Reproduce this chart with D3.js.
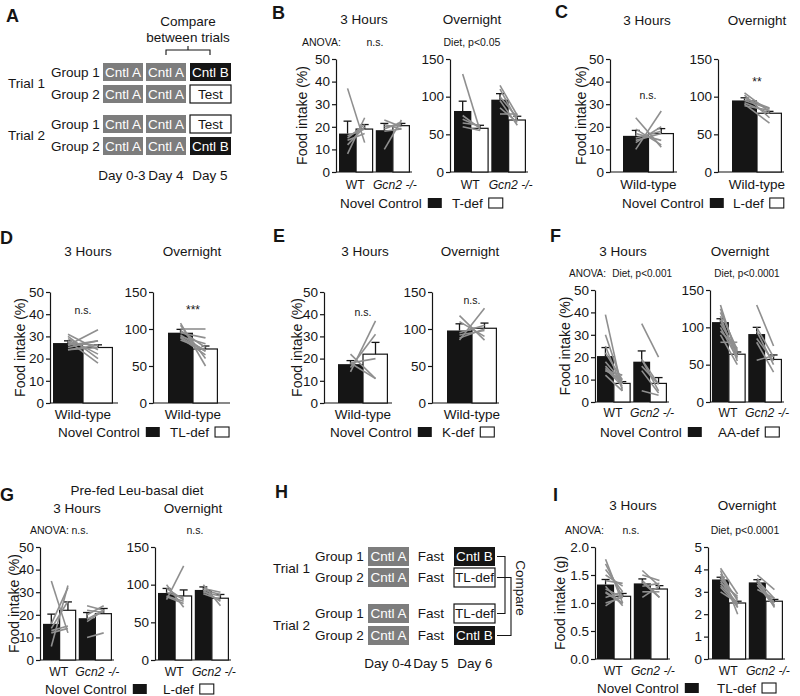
<!DOCTYPE html>
<html><head><meta charset="utf-8">
<script src="https://cdn.jsdelivr.net/npm/d3@7"></script>
<style>body{margin:0;background:#fff} svg{font-family:Arial,"Liberation Sans",sans-serif}</style>
</head><body><svg id="fig" width="800" height="696"></svg>
<script>
// ---------------- DATA ----------------
const catsKO = ["WT", "Gcn2 -/-"];
const catsWT = ["Wild-type"];
const ticksPct50 = [0, 10, 20, 30, 40, 50];
const ticksPct150 = [0, 50, 100, 150];
const ticksG2 = [0, 0.5, 1.0, 1.5, 2.0];
const ticksG5 = [0, 1, 2, 3, 4, 5];

// Panel A protocol
const A_trials = ["Trial 1", "Trial 2"];
const A_groups = ["Group 1", "Group 2", "Group 1", "Group 2"];
const A_days = ["Day 0-3", "Day 4", "Day 5"];
const A_day5 = ["Cntl B", "Test", "Test", "Cntl B"];
// Panel H protocol
const H_trials = ["Trial 1", "Trial 2"];
const H_groups = ["Group 1", "Group 2", "Group 1", "Group 2"];
const H_days = ["Day 0-4", "Day 5", "Day 6"];
const H_day6 = ["Cntl B", "TL-def", "TL-def", "Cntl B"];

// Panel B (T-def)
const B_3h_ctrl = [17, 18.5], B_3h_ctrlErr = [5.5, 3], B_3h_def = [19, 20.5], B_3h_defErr = [2, 1];
const B_3h_pairs = [[[37,13],[8,24],[12,20],[14,17],[15,21],[16,19]],
                    [[10,23],[21,19],[23,20],[19,22],[20,21],[18,19]]];
const B_on_ctrl = [81, 96], B_on_ctrlErr = [13, 8], B_on_def = [58, 69], B_on_defErr = [4, 5];
const B_on_pairs = [[[130,55],[60,55],[65,62],[75,58],[70,60]],
                    [[115,75],[110,68],[100,72],[95,62],[85,66],[77,77]]];
// Panel C (L-def)
const C_3h_ctrl = [16], C_3h_ctrlErr = [2.4], C_3h_def = [17], C_3h_defErr = [2.2];
const C_3h_pairs = [[[24,11],[10,27],[13,20],[19,12],[15,18],[17,14],[14,17]]];
const C_on_ctrl = [95], C_on_ctrlErr = [3.5], C_on_def = [78], C_on_defErr = [2.5];
const C_on_pairs = [[[105,80],[102,72],[98,85],[90,65],[92,78],[88,82],[95,84]]];
// Panel D (TL-def)
const D_3h_ctrl = [27], D_3h_ctrlErr = [1], D_3h_def = [25], D_3h_defErr = [1.2];
const D_3h_pairs = [[[31,24],[26,33],[28,18],[25,28],[29,22],[27,26],[24,25],[26,28],[30,20],[24,26]]];
const D_on_ctrl = [95], D_on_ctrlErr = [4.5], D_on_def = [73], D_on_defErr = [4];
const D_on_pairs = [[[108,50],[105,60],[100,100],[98,75],[95,88],[92,70],[90,80],[88,65],[85,72],[89,70]]];
// Panel E (K-def)
const E_3h_ctrl = [17.5], E_3h_ctrlErr = [1.6], E_3h_def = [22], E_3h_defErr = [5.3];
const E_3h_pairs = [[[14,37],[16,31],[18,20],[22,11],[18,11]]];
const E_on_ctrl = [98], E_on_ctrlErr = [9], E_on_def = [101], E_on_defErr = [7];
const E_on_pairs = [[[118,85],[85,128],[110,90],[95,105],[88,100],[92,98]]];
// Panel F (AA-def)
const F_3h_ctrl = [20.5, 18], F_3h_ctrlErr = [3.8, 4.8], F_3h_def = [8.3, 8.3], F_3h_defErr = [0.8, 2.6];
const F_3h_pairs = [[[39,5],[30,8],[25,6],[22,10],[18,9],[15,7],[14,12],[16,8],[12,5],[14,10]],
                    [[35,20],[19,5],[16,8],[14,4],[5,3],[19,8]]];
const F_on_ctrl = [107, 91], F_on_ctrlErr = [4.5, 9], F_on_def = [64, 57], F_on_defErr = [3, 6];
const F_on_pairs = [[[130,60],[125,65],[120,70],[115,55],[110,62],[105,68],[100,58],[95,72],[90,50],[80,80]],
                    [[130,75],[100,60],[95,50],[85,55],[80,40],[56,62]]];
// Panel G (L-def, pre-fed Leu-basal)
const G_3h_ctrl = [16, 18.5], G_3h_ctrlErr = [4.3, 2.5], G_3h_def = [22, 20.5], G_3h_defErr = [3.7, 2.3];
const G_3h_pairs = [[[35,12],[6,33],[14,26],[13,15],[12,14],[16,32]],
                    [[24,22],[10,12],[20,24],[17,22],[22,21],[18,22]]];
const G_on_ctrl = [89, 93], G_on_ctrlErr = [6, 4], G_on_def = [85, 82], G_on_defErr = [8, 5];
const G_on_pairs = [[[80,125],[100,70],[95,80],[85,78],[90,82],[84,75]],
                    [[100,72],[95,90],[90,85],[88,80],[92,78],[93,87]]];
// Panel I (TL-def, grams)
const I_3h_ctrl = [1.33, 1.35], I_3h_ctrlErr = [0.09, 0.08], I_3h_def = [1.12, 1.25], I_3h_defErr = [0.05, 0.06];
const I_3h_pairs = [[[1.78,1.0],[1.7,1.1],[1.6,1.2],[1.5,1.3],[1.4,1.35],[1.3,0.95],[1.25,1.1],[1.2,1.0],[1.1,1.2],[1.0,1.1],[0.95,1.15],[1.18,0.99]],
                    [[1.58,1.3],[1.5,1.4],[1.4,1.1],[1.3,1.35],[1.2,1.2],[1.1,1.3],[1.37,1.1]]];
const I_on_ctrl = [3.55, 3.42], I_on_ctrlErr = [0.1, 0.12], I_on_def = [2.5, 2.58], I_on_defErr = [0.08, 0.08];
const I_on_pairs = [[[4.05,2.9],[3.95,2.0],[3.8,2.6],[3.7,2.3],[3.6,2.7],[3.5,2.3],[3.4,2.8],[3.3,2.5],[3.2,2.4],[3.0,2.5]],
                    [[3.75,3.1],[3.6,2.3],[3.5,2.7],[3.4,2.5],[3.3,2.4],[3.1,2.7],[3.29,2.36]]];

// ---------------- DRAWING ----------------
const svg = d3.select("#fig");
const INK = "#151515", GREY = "#8f8f8f", BOXGREY = "#7d7d7d";

function txt(x, y, s, o = {}) {
  return svg.append("text").attr("x", x).attr("y", y).attr("dy", "0.35em")
    .attr("text-anchor", o.anchor || "start").attr("font-size", o.size || 13)
    .attr("font-weight", o.weight || "normal").attr("font-style", o.style || "normal")
    .attr("fill", o.fill || INK).text(s);
}

function chart(c) {
  const y = d3.scaleLinear().domain([0, c.max]).range([c.yBot, c.yTop]);
  const xg = d3.scaleBand().domain(c.cats).range([c.barL, c.barR]).paddingInner(c.cats.length > 1 ? 0.07 : 0);
  const xs = d3.scaleBand().domain(["ctrl", "def"]).range([0, xg.bandwidth()]);
  const g = svg.append("g");
  const ax = d3.axisLeft(y).tickValues(c.ticks).tickSize(4).tickSizeOuter(0).tickPadding(2)
    .tickFormat(c.fmt || d3.format("d"));
  const axg = g.append("g").attr("transform", `translate(${c.axisX},0)`).call(ax);
  axg.select(".domain").attr("stroke", INK).attr("stroke-width", 1.2);
  axg.selectAll(".tick line").attr("stroke", INK).attr("stroke-width", 1.2);
  axg.selectAll(".tick text").attr("font-size", 13.5).attr("fill", INK)
     .attr("font-family", "Arial, 'Liberation Sans', sans-serif");
  g.append("line").attr("x1", c.axisX).attr("x2", c.xEnd).attr("y1", c.yBot).attr("y2", c.yBot)
    .attr("stroke", INK).attr("stroke-width", 1.2);
  const bw = xs.bandwidth();
  const many = c.cats.length > 1;
  c.cats.forEach((cat, i) => {
    const xc = xg(cat) + xs("ctrl"), xd = xg(cat) + xs("def");
    g.append("rect").attr("x", xc).attr("y", y(c.ctrl[i])).attr("width", bw)
      .attr("height", c.yBot - y(c.ctrl[i])).attr("fill", INK);
    g.append("rect").attr("x", xd).attr("y", y(c.def[i])).attr("width", bw - 0.6)
      .attr("height", c.yBot - y(c.def[i])).attr("fill", "#fff").attr("stroke", INK).attr("stroke-width", 1.2);
    [[xc, c.ctrl[i], c.ctrlErr[i]], [xd, c.def[i], c.defErr[i]]].forEach(([bx, m, e]) => {
      const cx = bx + bw / 2;
      g.append("line").attr("x1", cx).attr("x2", cx).attr("y1", y(m)).attr("y2", y(m + e))
        .attr("stroke", INK).attr("stroke-width", 1.3);
      g.append("line").attr("x1", cx - 4).attr("x2", cx + 4).attr("y1", y(m + e)).attr("y2", y(m + e))
        .attr("stroke", INK).attr("stroke-width", 1.3);
    });
    c.pairs[i].forEach(p => {
      g.append("line").attr("x1", xc + bw / 2).attr("x2", xd + bw / 2)
        .attr("y1", y(p[0])).attr("y2", y(p[1]))
        .attr("stroke", GREY).attr("stroke-width", 1.6);
    });
    const isKO = cat.startsWith("Gcn2");
    txt(xg(cat) + xg.bandwidth() / 2 + (isKO ? 2 : (many ? -1 : 0)), c.catY, cat,
        { anchor: "middle", size: many ? 12.2 : 13.5, style: isKO ? "italic" : "normal" });
  });
  if (c.ylab) {
    svg.append("text").attr("transform", `translate(${c.ylab[0]},${(c.yTop + c.yBot) / 2}) rotate(-90)`)
      .attr("text-anchor", "middle").attr("dy", "0.35em").attr("font-size", 14).attr("fill", INK).text(c.ylab[1]);
  }
  if (c.title) txt(c.title[0], c.title[1], c.title[2], { anchor: "middle", size: 13.5 });
}

function legend(x, y, defLabel, defX) {
  const t1 = txt(x, y, "Novel Control", { size: 13.5 });
  const w1 = t1.node().getComputedTextLength();
  svg.append("rect").attr("x", x + w1 + 6).attr("y", y - 5).attr("width", 14).attr("height", 10).attr("fill", INK);
  const t2 = txt(defX, y, defLabel, { size: 13.5 });
  const w2 = t2.node().getComputedTextLength();
  svg.append("rect").attr("x", defX + w2 + 6).attr("y", y - 5).attr("width", 14).attr("height", 10)
    .attr("fill", "#fff").attr("stroke", INK).attr("stroke-width", 1.1);
}

function box(x, y, w, h, label, kind) {
  const fill = kind === "grey" ? BOXGREY : kind === "black" ? INK : "#fff";
  svg.append("rect").attr("x", x).attr("y", y).attr("width", w).attr("height", h).attr("fill", fill)
    .attr("stroke", kind === "white" ? INK : "none").attr("stroke-width", 1.2);
  txt(x + w / 2, y + h / 2, label, { anchor: "middle", size: 13.5, fill: kind === "white" ? INK : "#fff" });
}
function kindOf(s) { return s.startsWith("Cntl B") ? "black" : s.startsWith("Cntl") ? "grey" : "white"; }

// ---- Panel letters
[["A", 6, 16], ["B", 272, 13], ["C", 555, 12], ["D", 0, 238], ["E", 273, 236], ["F", 550, 236],
 ["G", 0, 495], ["H", 275, 492], ["I", 553, 495]].forEach(d => txt(d[1], d[2], d[0], { size: 18, weight: "bold" }));

// ---- Panel A
{
  const rowsY = [63, 85, 115, 137], h = 18;
  A_trials.forEach((t, i) => txt(8, i === 0 ? 83 : 135, t, { size: 13.5 }));
  A_groups.forEach((gname, i) => {
    txt(51, rowsY[i] + h / 2, gname, { size: 13.5 });
    box(103, rowsY[i], 40, h, "Cntl A", "grey");
    box(146, rowsY[i], 40, h, "Cntl A", "grey");
    box(190, rowsY[i], 41, h, A_day5[i], kindOf(A_day5[i]));
  });
  [122, 166, 210].forEach((x, i) => txt(x, 175, A_days[i], { anchor: "middle", size: 13.5 }));
  txt(188, 21, "Compare", { anchor: "middle", size: 13.5 });
  txt(188, 37, "between trials", { anchor: "middle", size: 13.5 });
  svg.append("path").attr("d", "M166,55 V50 H210 V55 M188,50 V46").attr("fill", "none")
    .attr("stroke", INK).attr("stroke-width", 1.1);
}

// ---- Panel H
{
  const rowsY = [547, 568, 604, 626], h = 19;
  H_trials.forEach((t, i) => txt(273, i === 0 ? 568 : 625, t, { size: 13.5 }));
  H_groups.forEach((gname, i) => {
    txt(315, rowsY[i] + h / 2, gname, { size: 13.5 });
    box(368, rowsY[i], 41, h, "Cntl A", "grey");
    txt(431, rowsY[i] + h / 2, "Fast", { anchor: "middle", size: 13.5 });
    box(454, rowsY[i], 41, h, H_day6[i], kindOf(H_day6[i]));
  });
  [388, 431, 475].forEach((x, i) => txt(x, 663, H_days[i], { anchor: "middle", size: 13.5 }));
  const mid = i => rowsY[i] + h / 2;
  svg.append("path").attr("d", `M497,${mid(0)} H505 V${mid(2)} H497`).attr("fill", "none").attr("stroke", INK).attr("stroke-width", 1.1);
  svg.append("path").attr("d", `M497,${mid(1)} H511 V${mid(3)} H497`).attr("fill", "none").attr("stroke", INK).attr("stroke-width", 1.1);
  svg.append("text").attr("transform", "translate(521,588) rotate(90)").attr("text-anchor", "middle")
    .attr("dy", "0.35em").attr("font-size", 13.5).attr("fill", INK).text("Compare");
}

const FL = "Food intake (%)";
const SM = 10.5;
// ---- Panel B
chart({ axisX: 336, barL: 339, barR: 410, xEnd: 412, yTop: 59, yBot: 172, max: 50, ticks: ticksPct50,
  cats: catsKO, ctrl: B_3h_ctrl, ctrlErr: B_3h_ctrlErr, def: B_3h_def, defErr: B_3h_defErr, pairs: B_3h_pairs,
  catY: 185, ylab: [302, FL], title: [364, 19, "3 Hours"] });
chart({ axisX: 450, barL: 454, barR: 526, xEnd: 528, yTop: 59, yBot: 172, max: 150, ticks: ticksPct150,
  cats: catsKO, ctrl: B_on_ctrl, ctrlErr: B_on_ctrlErr, def: B_on_def, defErr: B_on_defErr, pairs: B_on_pairs,
  catY: 185, title: [472, 19, "Overnight"] });
txt(302, 42, "ANOVA:", { size: SM });
txt(375, 42, "n.s.", { size: SM, anchor: "middle" });
txt(472, 42, "Diet, p<0.05", { size: SM, anchor: "middle" });
legend(340, 203, "T-def", 452);

// ---- Panel C
chart({ axisX: 610, barL: 623, barR: 674, xEnd: 677, yTop: 59, yBot: 172, max: 50, ticks: ticksPct50,
  cats: catsWT, ctrl: C_3h_ctrl, ctrlErr: C_3h_ctrlErr, def: C_3h_def, defErr: C_3h_defErr, pairs: C_3h_pairs,
  catY: 184, ylab: [581, FL], title: [647, 20, "3 Hours"] });
chart({ axisX: 718, barL: 732, barR: 782, xEnd: 784, yTop: 59, yBot: 172, max: 150, ticks: ticksPct150,
  cats: catsWT, ctrl: C_on_ctrl, ctrlErr: C_on_ctrlErr, def: C_on_def, defErr: C_on_defErr, pairs: C_on_pairs,
  catY: 184, title: [757, 20, "Overnight"] });
txt(648, 95, "n.s.", { size: SM, anchor: "middle" });
txt(757, 82, "**", { size: 12, anchor: "middle" });
legend(622, 203, "L-def", 733);

// ---- Panel D
chart({ axisX: 50, barL: 53, barR: 113, xEnd: 118, yTop: 292, yBot: 403, max: 50, ticks: ticksPct50,
  cats: catsWT, ctrl: D_3h_ctrl, ctrlErr: D_3h_ctrlErr, def: D_3h_def, defErr: D_3h_defErr, pairs: D_3h_pairs,
  catY: 414, ylab: [20, FL], title: [88, 251, "3 Hours"] });
chart({ axisX: 153, barL: 168, barR: 218, xEnd: 230, yTop: 292, yBot: 403, max: 150, ticks: ticksPct150,
  cats: catsWT, ctrl: D_on_ctrl, ctrlErr: D_on_ctrlErr, def: D_on_def, defErr: D_on_defErr, pairs: D_on_pairs,
  catY: 414, title: [192, 251, "Overnight"] });
txt(83, 310, "n.s.", { size: SM, anchor: "middle" });
txt(193, 310, "***", { size: 12, anchor: "middle" });
legend(58, 432, "TL-def", 170);

// ---- Panel E
chart({ axisX: 324, barL: 338, barR: 388, xEnd: 392, yTop: 292, yBot: 403, max: 50, ticks: ticksPct50,
  cats: catsWT, ctrl: E_3h_ctrl, ctrlErr: E_3h_ctrlErr, def: E_3h_def, defErr: E_3h_defErr, pairs: E_3h_pairs,
  catY: 414, ylab: [297, FL], title: [365, 251, "3 Hours"] });
chart({ axisX: 432, barL: 447, barR: 497, xEnd: 499, yTop: 292, yBot: 403, max: 150, ticks: ticksPct150,
  cats: catsWT, ctrl: E_on_ctrl, ctrlErr: E_on_ctrlErr, def: E_on_def, defErr: E_on_defErr, pairs: E_on_pairs,
  catY: 414, title: [470, 251, "Overnight"] });
txt(363, 312, "n.s.", { size: SM, anchor: "middle" });
txt(472, 300, "n.s.", { size: SM, anchor: "middle" });
legend(330, 432, "K-def", 442);

// ---- Panel F
chart({ axisX: 595, barL: 597, barR: 667, xEnd: 669, yTop: 290, yBot: 402, max: 50, ticks: ticksPct50,
  cats: catsKO, ctrl: F_3h_ctrl, ctrlErr: F_3h_ctrlErr, def: F_3h_def, defErr: F_3h_defErr, pairs: F_3h_pairs,
  catY: 413, ylab: [565, FL], title: [623, 251, "3 Hours"] });
chart({ axisX: 710, barL: 712, barR: 782, xEnd: 784, yTop: 290, yBot: 402, max: 150, ticks: ticksPct150,
  cats: catsKO, ctrl: F_on_ctrl, ctrlErr: F_on_ctrlErr, def: F_on_def, defErr: F_on_defErr, pairs: F_on_pairs,
  catY: 413, title: [740, 251, "Overnight"] });
txt(569, 273, "ANOVA:", { size: 10 });
txt(672, 273, "Diet, p<0.001", { size: 10, anchor: "end" });
txt(747, 273, "Diet, p<0.0001", { size: 10, anchor: "middle" });
legend(600, 432, "AA-def", 718);

// ---- Panel G
txt(137, 490, "Pre-fed Leu-basal diet", { anchor: "middle", size: 13.5 });
chart({ axisX: 40, barL: 43, barR: 112, xEnd: 114, yTop: 547, yBot: 660, max: 50, ticks: ticksPct50,
  cats: catsKO, ctrl: G_3h_ctrl, ctrlErr: G_3h_ctrlErr, def: G_3h_def, defErr: G_3h_defErr, pairs: G_3h_pairs,
  catY: 672, ylab: [14, FL], title: [77, 508, "3 Hours"] });
chart({ axisX: 155, barL: 158, barR: 229, xEnd: 231, yTop: 547, yBot: 660, max: 150, ticks: ticksPct150,
  cats: catsKO, ctrl: G_on_ctrl, ctrlErr: G_on_ctrlErr, def: G_on_def, defErr: G_on_defErr, pairs: G_on_pairs,
  catY: 672, title: [193, 508, "Overnight"] });
txt(30, 530, "ANOVA:", { size: SM });
txt(80, 530, "n.s.", { size: SM, anchor: "middle" });
txt(195, 530, "n.s.", { size: SM, anchor: "middle" });
legend(45, 689, "L-def", 163);

// ---- Panel I
chart({ axisX: 595, barL: 597, barR: 668, xEnd: 670, yTop: 547, yBot: 659, max: 2, ticks: ticksG2, fmt: d3.format(".1f"),
  cats: catsKO, ctrl: I_3h_ctrl, ctrlErr: I_3h_ctrlErr, def: I_3h_def, defErr: I_3h_defErr, pairs: I_3h_pairs,
  catY: 671, ylab: [560, "Food intake (g)"], title: [633, 505, "3 Hours"] });
chart({ axisX: 708, barL: 712, barR: 783, xEnd: 785, yTop: 547, yBot: 659, max: 5, ticks: ticksG5,
  cats: catsKO, ctrl: I_on_ctrl, ctrlErr: I_on_ctrlErr, def: I_on_def, defErr: I_on_defErr, pairs: I_on_pairs,
  catY: 671, title: [747, 505, "Overnight"] });
txt(565, 530, "ANOVA:", { size: SM });
txt(631, 530, "n.s.", { size: SM, anchor: "middle" });
txt(745, 530, "Diet, p<0.0001", { size: SM, anchor: "middle" });
legend(597, 688, "TL-def", 717);
</script></body></html>
